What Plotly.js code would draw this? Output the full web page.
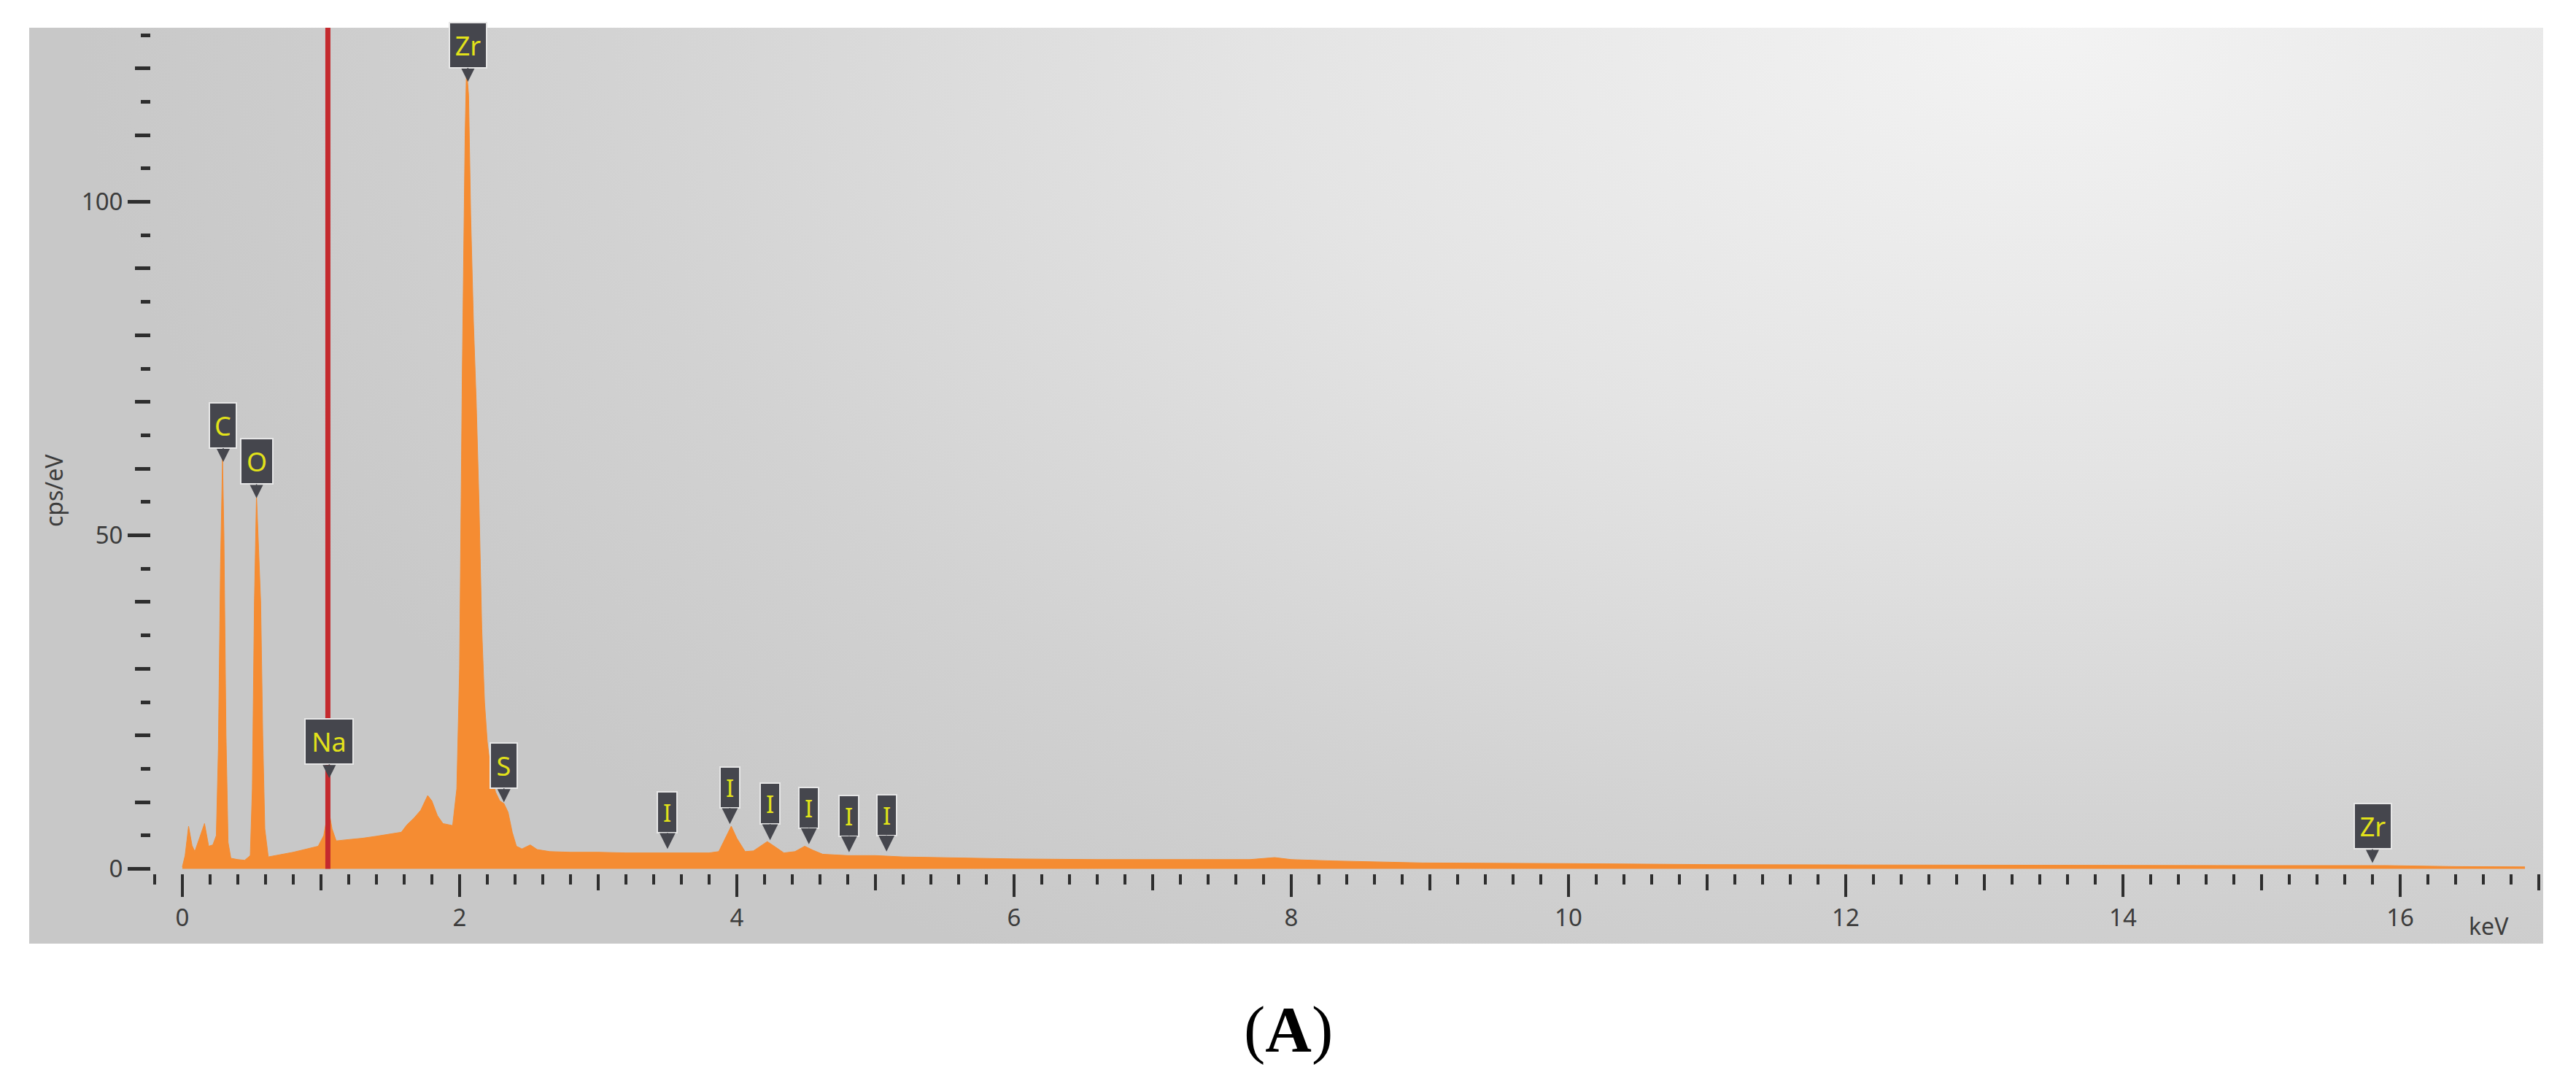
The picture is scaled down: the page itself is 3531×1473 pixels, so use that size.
<!DOCTYPE html>
<html>
<head>
<meta charset="utf-8">
<script src="https://cdn.plot.ly/plotly-3.0.1.min.js"></script>
<style>
  html, body { margin: 0; padding: 0; background: #ffffff; }
  #wrap { position: relative; width: 3531px; height: 1473px; overflow: hidden; }
  #panel {
    position: absolute; left: 40px; top: 38px; width: 3446px; height: 1255px;
    background: radial-gradient(ellipse 78% 120% at 80% 0%, #f3f3f3 0%, #e4e4e4 40%, #d2d2d2 75%, #c8c8c8 100%);
  }
  #chart { position: absolute; left: 0; top: 0; width: 3531px; height: 1473px; }
</style>
</head>
<body>
<div id="wrap">
  <div id="panel"></div>
  <div id="chart"></div>
</div>
<script>
// ---- spectrum data (energy in keV, intensity in cps/eV) ----
const energyKeV = [
  0.00, 0.02, 0.045, 0.07, 0.09, 0.12, 0.16, 0.19, 0.22, 0.245,
  0.26, 0.275, 0.29, 0.30, 0.315, 0.33, 0.35, 0.40, 0.45, 0.49,
  0.505, 0.52, 0.535, 0.55, 0.565, 0.58, 0.595, 0.62, 0.70, 0.80,
  0.90, 0.98, 1.02, 1.055, 1.08, 1.11, 1.20, 1.30, 1.40, 1.50,
  1.58, 1.62, 1.67, 1.72, 1.77, 1.80, 1.84, 1.88, 1.95, 1.98,
  2.00, 2.02, 2.04, 2.05, 2.065, 2.08, 2.10, 2.12, 2.14, 2.16,
  2.18, 2.20, 2.23, 2.26, 2.29, 2.32, 2.35, 2.38, 2.41, 2.45,
  2.51, 2.56, 2.65, 2.80, 3.00, 3.20, 3.40, 3.60, 3.80, 3.87,
  3.92, 3.96, 4.00, 4.06, 4.12, 4.18, 4.22, 4.27, 4.34, 4.42,
  4.49, 4.55, 4.62, 4.80, 5.00, 5.20, 5.50, 6.00, 6.60, 7.20,
  7.70, 7.88, 8.00, 8.30, 8.95, 10.0, 11.0, 12.0, 13.0, 14.0,
  15.0, 15.9, 16.4, 16.9
];
const cpsPerEV = [
  0.3, 2.0, 6.4, 3.5, 2.6, 4.5, 6.8, 3.4, 3.6, 5.0,
  18, 45, 61.5, 50, 20, 4, 1.6, 1.4, 1.3, 2.0,
  12, 40, 56, 48, 40, 20, 6, 1.8, 2.1, 2.5,
  3.0, 3.4, 5.0, 9.0, 6.0, 4.2, 4.4, 4.6, 4.9, 5.2,
  5.5, 6.6, 7.6, 8.8, 11.0, 10.2, 8.0, 6.8, 6.5, 12,
  30, 75, 110, 120, 116, 98, 82, 70, 55, 36,
  25, 19, 14, 11.5, 10.2, 9.8, 8.5, 5.5, 3.4, 3.0,
  3.6, 2.9, 2.6, 2.5, 2.5, 2.4, 2.4, 2.4, 2.4, 2.6,
  4.8, 6.4, 4.6, 2.6, 2.7, 3.6, 4.1, 3.4, 2.4, 2.6,
  3.4, 2.8, 2.2, 2.0, 2.0, 1.8, 1.7, 1.5, 1.4, 1.4,
  1.4, 1.7, 1.4, 1.2, 0.9, 0.8, 0.65, 0.6, 0.55, 0.5,
  0.5, 0.5, 0.35, 0.3
];

// ---- element markers ----
const labelText = ['C', 'O', 'Zr', 'Na', 'S', 'I', 'I', 'I', 'I', 'I', 'I', 'Zr'];
const labelKeV  = [0.295, 0.535, 2.06, 1.06, 2.32, 3.50, 3.95, 4.24, 4.52, 4.81, 5.08, 15.80];
const labelTip  = [61, 55.6, 118, 13.6, 10.0, 3.0, 6.7, 4.3, 3.7, 2.5, 2.6, 0.9];

// ---- cursor ----
const cursorKeV = 1.05;

// ---- axis ticks ----
const xTickStep = 2, xMidStep = 1, xMinorStep = 0.2;
const yTickStep = 50, yMidStep = 10, yMinorStep = 5;
const xRange = [-0.226, 17.0];
const yRange = [-0.7, 126.1];

const FONT = 'Noto Sans, Open Sans, DejaVu Sans, sans-serif';
const TICKCOL = '#2e2e2e';
const LABELCOL = '#3c3c3c';
const ORANGE = '#f58c32';

const traces = [
  {
    type: 'scatter', mode: 'lines',
    x: energyKeV, y: cpsPerEV,
    fill: 'tozeroy', fillcolor: ORANGE,
    line: { color: ORANGE, width: 1 },
    hoverinfo: 'skip'
  },
  { type: 'scatter', x: [], y: [], xaxis: 'x2', yaxis: 'y', hoverinfo: 'skip' },
  { type: 'scatter', x: [], y: [], xaxis: 'x', yaxis: 'y2', hoverinfo: 'skip' }
];

const widthFor = { 'C': 31, 'O': 38, 'Zr': 45, 'Na': 60, 'S': 31, 'I': 21 };

const annotations = labelText.map((t, i) => {
  const isI = t === 'I';
  return {
    x: labelKeV[i], y: labelTip[i], xref: 'x', yref: 'y',
    text: t,
    showarrow: true, arrowhead: 2, arrowwidth: 1.5,
    arrowsize: isI ? 2.9 : 2.4,
    arrowcolor: '#45464d',
    ax: 0, ay: isI ? -50 : -50,
    width: widthFor[t], height: isI ? 50 : 56,
    bgcolor: '#45464d', bordercolor: '#e6e6e6', borderwidth: 2, borderpad: 2,
    font: { family: FONT, size: isI ? 33 : 36, color: '#e2e21a' },
    align: 'center', valign: 'middle'
  };
});

annotations.push(
  { xref: 'paper', yref: 'paper', x: -0.0406, y: 0.453, text: 'cps/eV', textangle: -90,
    showarrow: false, font: { family: FONT, size: 32, color: LABELCOL }, xanchor: 'center', yanchor: 'middle' },
  { xref: 'paper', yref: 'paper', x: 0.979, y: -0.0613, text: 'keV',
    showarrow: false, font: { family: FONT, size: 32, color: LABELCOL }, xanchor: 'center', yanchor: 'middle' },
  { xref: 'paper', yref: 'paper', x: 0.4763, y: -0.1838, text: '(<b>A</b>)',
    showarrow: false, font: { family: 'Liberation Serif, Times New Roman, serif', size: 88, color: '#000000' },
    xanchor: 'center', yanchor: 'middle' }
);

const baseX = {
  range: xRange, showgrid: false, zeroline: false, showline: false, fixedrange: true
};
const baseY = {
  range: yRange, showgrid: false, zeroline: false, showline: false, fixedrange: true
};

const layout = {
  width: 3531, height: 1473,
  margin: { l: 207, r: 51, t: 38, b: 276, pad: 0 },
  paper_bgcolor: 'rgba(0,0,0,0)', plot_bgcolor: 'rgba(0,0,0,0)',
  showlegend: false,
  xaxis: Object.assign({}, baseX, {
    ticks: 'outside', tickmode: 'linear', tick0: 0, dtick: xTickStep,
    ticklen: 31, tickwidth: 4, tickcolor: TICKCOL,
    tickfont: { family: FONT, size: 33, color: LABELCOL },
    minor: { ticks: 'outside', tickmode: 'linear', tick0: 0, dtick: xMinorStep, ticklen: 14, tickwidth: 4, tickcolor: TICKCOL, showgrid: false }
  }),
  xaxis2: Object.assign({}, baseX, {
    overlaying: 'x', anchor: 'y', side: 'bottom',
    ticks: 'outside', tickmode: 'linear', tick0: xMidStep, dtick: 2 * xMidStep,
    ticklen: 22, tickwidth: 4, tickcolor: TICKCOL, showticklabels: false
  }),
  yaxis: Object.assign({}, baseY, {
    ticks: 'outside', tickmode: 'linear', tick0: 0, dtick: yTickStep,
    ticklen: 31, tickwidth: 5, tickcolor: TICKCOL,
    tickfont: { family: FONT, size: 33, color: LABELCOL },
    minor: { ticks: 'outside', tickmode: 'linear', tick0: 0, dtick: yMinorStep, ticklen: 13, tickwidth: 5, tickcolor: TICKCOL, showgrid: false }
  }),
  yaxis2: Object.assign({}, baseY, {
    overlaying: 'y', anchor: 'x', side: 'left',
    ticks: 'outside', tickmode: 'linear', tick0: 0, dtick: yMidStep,
    ticklen: 21, tickwidth: 5, tickcolor: TICKCOL, showticklabels: false
  }),
  shapes: [
    { type: 'line', xref: 'x', yref: 'y', x0: cursorKeV, x1: cursorKeV, y0: 0, y1: yRange[1],
      line: { color: '#c42a2e', width: 7 }, layer: 'above' }
  ],
  annotations: annotations
};

Plotly.newPlot('chart', traces, layout, { staticPlot: true, displayModeBar: false });
</script>
</body>
</html>
